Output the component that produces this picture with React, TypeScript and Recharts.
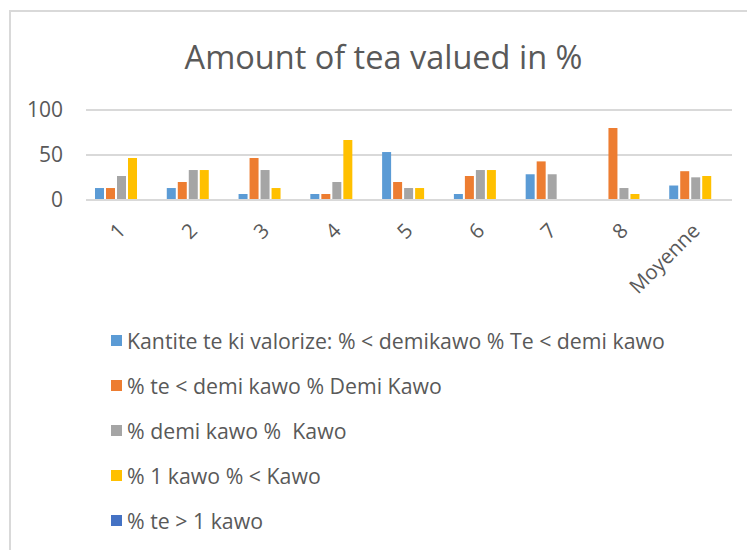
import React from 'react';
import { BarChart, Bar, XAxis, YAxis, CartesianGrid, Legend } from 'recharts';

const categories = ['1', '2', '3', '4', '5', '6', '7', '8', 'Moyenne'];
const seriesNames = [
  'Kantite te ki valorize: % < demikawo % Te < demi kawo',
  '% te < demi kawo % Demi Kawo',
  '% demi kawo %  Kawo',
  '% 1 kawo % < Kawo',
  '% te > 1 kawo',
];
const seriesColors = ['#5B9BD5', '#ED7D31', '#A5A5A5', '#FFC000', '#4472C4'];
const s1 = [13.3, 13.3, 6.7, 6.7, 53.3, 6.7, 28.6, 0, 16.1];
const s2 = [13.3, 20, 46.7, 6.7, 20, 26.7, 42.9, 80, 32.0];
const s3 = [26.7, 33.3, 33.3, 20, 13.3, 33.3, 28.6, 13.3, 25.2];
const s4 = [46.7, 33.3, 13.3, 66.7, 13.3, 33.3, 0, 6.7, 26.7];
const s5 = [0, 0, 0, 0, 0, 0, 0, 0, 0];
const yTicks = [0, 50, 100];
const title = 'Amount of tea valued in %';

const series = [s1, s2, s3, s4, s5];
const data = categories.map((c, i) => {
  const row: Record<string, string | number> = { cat: c };
  series.forEach((s, k) => {
    row['s' + k] = s[i];
  });
  return row;
});

const FONT = '"Open Sans", sans-serif';
const TXT = '#595959';

const XTick = (props: any) => {
  const { x, y, payload } = props;
  return (
    <g transform={`translate(${x + 5},${y + 24}) rotate(-45)`}>
      <text x={0} y={0} textAnchor="end" fill={TXT} fontSize={20.5} fontFamily={FONT}>
        {payload.value}
      </text>
    </g>
  );
};

const LegendContent = (props: any) => {
  const items = [...(props.payload || [])].sort(
    (a: any, b: any) => seriesNames.indexOf(a.value) - seriesNames.indexOf(b.value)
  );
  return (
    <div style={{ fontFamily: FONT }}>
      {items.map((p: any, i: number) => (
        <div
          key={i}
          style={{
            display: 'flex',
            alignItems: 'center',
            height: 45,
            fontSize: 21.3,
            color: TXT,
            whiteSpace: 'pre',
          }}
        >
          <span
            style={{
              display: 'inline-block',
              width: 11,
              height: 11,
              background: p.color,
              marginRight: 5,
            }}
          />
          {p.value}
        </div>
      ))}
    </div>
  );
};

export default function App() {
  return (
    <div
      style={{
        position: 'absolute',
        left: 0,
        top: 0,
        width: 747,
        height: 550,
        background: '#fff',
        overflow: 'hidden',
      }}
    >
      <div
        style={{
          position: 'absolute',
          left: 9,
          top: 10,
          width: 760,
          height: 560,
          borderTop: '2px solid #d9d9d9',
          borderLeft: '2px solid #d9d9d9',
        }}
      />
      <div
        style={{
          position: 'absolute',
          left: 0,
          width: 747,
          top: 35,
          textAlign: 'center',
          fontFamily: FONT,
          fontSize: 32.5,
          color: TXT,
          lineHeight: '44px',
          paddingLeft: 20,
          boxSizing: 'border-box',
        }}
      >
        {title}
      </div>
      <div style={{ position: 'absolute', left: 0, top: 0 }}>
        <BarChart
          width={747}
          height={550}
          data={data}
          margin={{ top: 110, right: 15, left: 0, bottom: 270 }}
          barSize={9}
          barGap={2}
        >
          <CartesianGrid vertical={false} stroke="#d9d9d9" strokeWidth={2} />
          <XAxis
            dataKey="cat"
            interval={0}
            height={80}
            tickLine={false}
            axisLine={{ stroke: '#d9d9d9', strokeWidth: 2 }}
            tick={<XTick />}
          />
          <YAxis
            width={86}
            domain={[0, 100]}
            ticks={yTicks}
            tickLine={false}
            axisLine={false}
            tick={{ fill: TXT, fontSize: 21, fontFamily: FONT }}
            tickMargin={17}
          />
          {series.map((_, k) => (
            <Bar
              key={k}
              dataKey={'s' + k}
              name={seriesNames[k]}
              fill={seriesColors[k]}
              isAnimationActive={false}
            />
          ))}
          <Legend
            layout="vertical"
            align="center"
            verticalAlign="middle"
            content={<LegendContent />}
            wrapperStyle={{ top: 318, left: 111, width: 630, height: 230 }}
          />
        </BarChart>
      </div>
    </div>
  );
}
